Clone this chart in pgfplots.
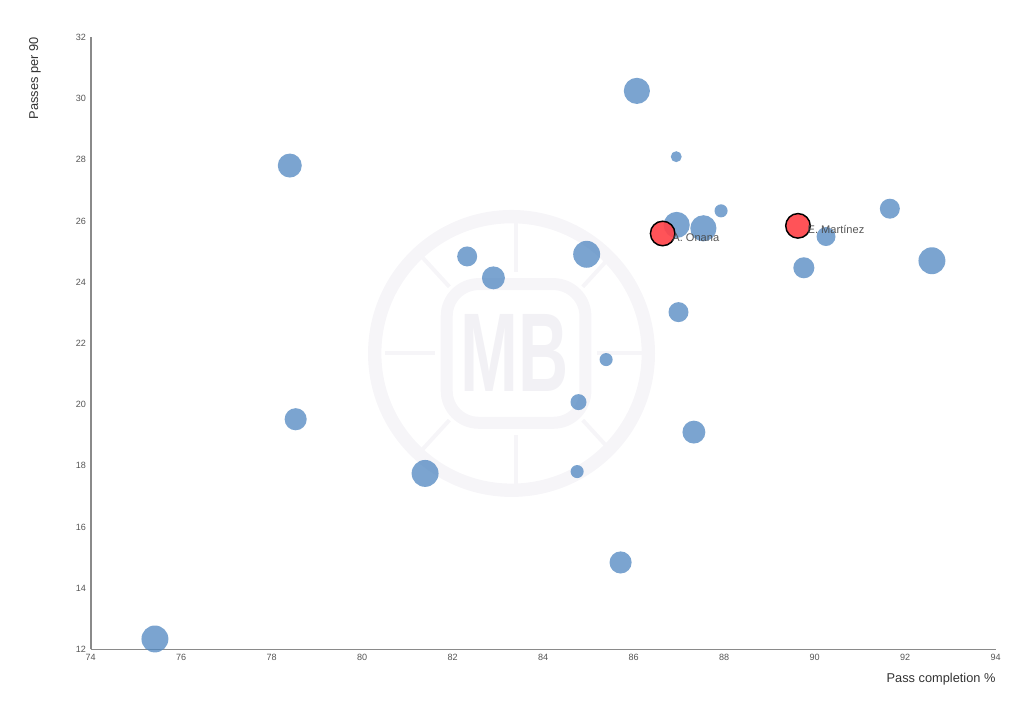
\documentclass[border=0pt]{standalone}
\usepackage{pgfplots}
\pgfplotsset{compat=1.18}
\usepackage{pgfplotstable}
\usepackage{fontspec}
\setmainfont{Liberation Sans}

\definecolor{bubble}{RGB}{79,134,192}
\definecolor{keeper}{RGB}{255,68,74}
\definecolor{wm}{RGB}{246,245,248}
\definecolor{wmtext}{RGB}{242,241,245}
\definecolor{axisgray}{RGB}{138,138,138}
\definecolor{ticktext}{RGB}{85,85,85}

% x = pass completion %, y = passes per 90, r = bubble radius (pt)
\pgfplotstableread{
x      y      r
75.42  12.34  10.1
78.40  27.81  9.0
78.53  19.52  8.3
81.39  17.75  10.1
82.32  24.84  7.5
82.90  24.14  8.6
84.96  24.91  10.1
84.78  20.08  6.0
84.75  17.81  4.9
85.39  21.47  4.9
85.71  14.84  8.3
86.07  30.25  9.8
86.94  28.10  4.1
86.95  25.87  9.8
87.54  25.76  9.8
86.99  23.02  7.5
87.33  19.10  8.6
87.93  26.33  4.9
89.76  24.47  7.9
90.25  25.49  7.1
91.66  26.40  7.5
92.59  24.70  10.1
}\others

\pgfplotstableread{
x      y      label
86.64  25.59  {A. Onana}
89.63  25.84  {E. Martínez}
}\highlight

\begin{document}
\begin{tikzpicture}
\path[use as bounding box] (-68pt,-42.5pt) rectangle (699.95pt,487pt);
\begin{axis}[
    at={(0,0)}, anchor=south west,
    scale only axis, width=678.75pt, height=459pt,
    xmin=74, xmax=94, ymin=12, ymax=32,
    xtick={74,76,...,94}, ytick={12,14,...,32},
    axis lines=left,
    axis line style={-, axisgray, line width=1.3pt},
    major tick length=0pt,
    tick label style={font=\fontsize{6.8}{7}\selectfont, text=ticktext},
    /pgf/number format/assume math mode=true,
    clip=false,
    xlabel={Pass completion \%},
    ylabel={Passes per 90},
    label style={font=\fontsize{9.6}{11}\selectfont, text=black!80, inner sep=0pt},
    xlabel style={at={(axis description cs:1,-0.0546)}, anchor=base east},
    ylabel style={at={(axis description cs:-0.0615,1)}, anchor=east},
  ]
  % faint watermark behind the data
  \draw[wm, line width=10pt] (axis cs:83.30,21.67) circle[radius=102.6pt];
  \draw[wm, line width=9pt, rounded corners=24pt]
    ([xshift=-52pt,yshift=-52pt]axis cs:83.40,21.67) rectangle ([xshift=52pt,yshift=52pt]axis cs:83.40,21.67);
  \draw[wm, line width=3pt] ([yshift=61pt]axis cs:83.40,21.67) -- ([yshift=100pt]axis cs:83.40,21.67);
  \draw[wm, line width=3pt] ([yshift=-61pt]axis cs:83.40,21.67) -- ([yshift=-100pt]axis cs:83.40,21.67);
  \draw[wm, line width=3pt] ([xshift=-61pt]axis cs:83.40,21.67) -- ([xshift=-98pt]axis cs:83.40,21.67);
  \draw[wm, line width=3pt] ([xshift=61pt]axis cs:83.40,21.67) -- ([xshift=98pt]axis cs:83.40,21.67);
  \draw[wm, line width=3pt] ([xshift=-50pt,yshift=50pt]axis cs:83.40,21.67) -- ([xshift=-72pt,yshift=74pt]axis cs:83.40,21.67);
  \draw[wm, line width=3pt] ([xshift=50pt,yshift=50pt]axis cs:83.40,21.67) -- ([xshift=72pt,yshift=74pt]axis cs:83.40,21.67);
  \draw[wm, line width=3pt] ([xshift=-50pt,yshift=-50pt]axis cs:83.40,21.67) -- ([xshift=-72pt,yshift=-74pt]axis cs:83.40,21.67);
  \draw[wm, line width=3pt] ([xshift=50pt,yshift=-50pt]axis cs:83.40,21.67) -- ([xshift=72pt,yshift=-74pt]axis cs:83.40,21.67);
  \node[text=wmtext, font=\bfseries\fontsize{84}{84}\selectfont, xscale=0.62, inner sep=0pt]
    at ([xshift=-1pt]axis cs:83.40,21.67) {MB};

  \addplot[scatter, only marks, mark=*,
    scatter/use mapped color={draw opacity=0, fill=bubble},
    mark options={draw opacity=0, fill=bubble, fill opacity=0.75},
    visualization depends on={\thisrow{r} \as \rad},
    scatter/@pre marker code/.append style={/tikz/mark size=\rad pt}]
    table[x=x, y=y] {\others};

  \addplot[only marks, mark=*, mark size=9.2pt,
    mark options={draw=black, line width=1.1pt, fill=keeper, fill opacity=0.92},
    point meta=explicit symbolic,
    nodes near coords,
    every node near coord/.append style={anchor=west, inner sep=0pt,
      xshift=6.75pt, yshift=-3pt, text=black!72,
      font=\fontsize{8.3}{9}\selectfont}]
    table[x=x, y=y, meta=label] {\highlight};
\end{axis}
\end{tikzpicture}
\end{document}
